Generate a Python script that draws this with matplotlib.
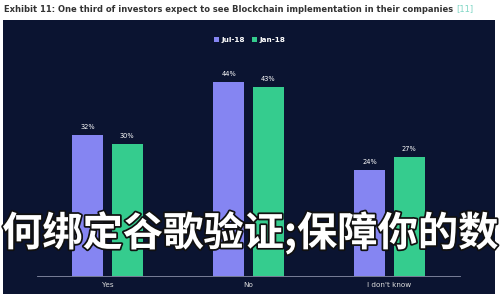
import matplotlib
matplotlib.use("Agg")
import matplotlib.pyplot as plt
import matplotlib.patheffects as pe
import numpy as np

categories = ["Yes", "No", "I don't know"]
series_names = ["Jul-18", "Jan-18"]
jul18 = [32, 44, 24]
jan18 = [30, 43, 27]
title = "Exhibit 11: One third of investors expect to see Blockchain implementation in their companies"
ref = "[11]"
overlay = "何绑定谷歌验证;保障你的数"

purple = "#8585f2"
green = "#35cc8e"
panel = "#0b1431"

fig = plt.figure(figsize=(5, 3), dpi=100)
fig.patch.set_facecolor("white")

bg = fig.add_axes([3/500, 6/300, 492/500, 274/300], zorder=-5)
bg.set_facecolor(panel)
bg.set_xticks([]); bg.set_yticks([])
for s in bg.spines.values():
    s.set_visible(False)

t = fig.text(4/500, 1 - 9/300, title, fontsize=6.05, fontweight="bold", color="#333333",
             va="center", ha="left")
fig.canvas.draw()
bb = t.get_window_extent(fig.canvas.get_renderer())
fig.text((bb.x1 + 3)/500, 1 - 9/300, ref, fontsize=6.05, color="#7fd6c4", va="center", ha="left")

ax = fig.add_axes([37/500, 24/300, 423/500, 220/300], zorder=1)
ax.set_facecolor("none")
x = np.arange(len(categories))
w = 0.22
off = 0.14
b1 = ax.bar(x - off, jul18, w, color=purple, label=series_names[0], zorder=2)
b2 = ax.bar(x + off, jan18, w, color=green, label=series_names[1], zorder=2)
for bars, vals in ((b1, jul18), (b2, jan18)):
    for r, v in zip(bars, vals):
        ax.text(r.get_x() + r.get_width()/2, v + 1.2, f"{v}%", ha="center", va="bottom",
                fontsize=4.8, color="white")
ax.set_xlim(-0.5, 2.5)
ax.set_ylim(0, 50)
ax.set_yticks([])
ax.set_xticks(x)
ax.set_xticklabels(categories, fontsize=5.2, color="#dddddd")
ax.tick_params(axis="x", length=0, pad=4)
for s in ("top", "right", "left"):
    ax.spines[s].set_visible(False)
ax.spines["bottom"].set_color("#8a90a8")
ax.spines["bottom"].set_linewidth(0.6)

leg = fig.legend(handles=[b1, b2], labels=series_names, loc="center", bbox_to_anchor=(0.5, 1 - 40/300),
                 ncol=2, frameon=False, fontsize=5.2, labelcolor="white", handlelength=0.6,
                 handleheight=0.6, handletextpad=0.4, columnspacing=1.0)
for txt in leg.get_texts():
    txt.set_fontweight("bold")

fig.text(2/500, 1 - 233/300, overlay, fontsize=29, fontweight="bold", color="white",
         family=["Noto Sans CJK SC", "DejaVu Sans"], ha="left", va="center", zorder=10,
         path_effects=[pe.withStroke(linewidth=2.5, foreground="#111111")])

fig.savefig("out.png", dpi=100, facecolor="white")
